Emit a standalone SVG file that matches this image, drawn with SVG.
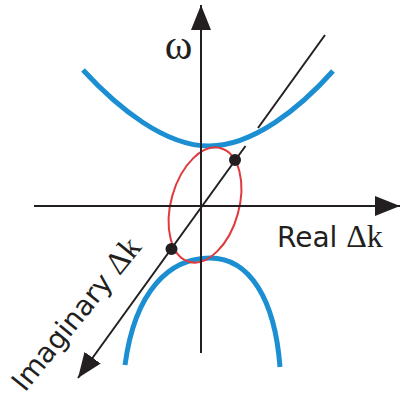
<svg xmlns="http://www.w3.org/2000/svg" width="401" height="400" viewBox="0 0 401 400">
  <defs>
    <marker id="arrow" markerUnits="userSpaceOnUse" markerWidth="26" markerHeight="21" refX="25" refY="10" orient="auto" viewBox="0 0 26 21">
      <path d="M0,0 L25,10 L0,20 Z" fill="#231f20"/>
    </marker>
    <style>
      .axis { stroke: #231f20; stroke-width: 2; fill: none; }
      .band { stroke: #1b8fd2; stroke-width: 5; fill: none; stroke-linecap: butt; }
      .loop { stroke: #e0393e; stroke-width: 2; fill: none; }
      .dot { fill: #231f20; }
      .lbl { font-family: "DejaVu Sans", "Liberation Sans", sans-serif; font-size: 28px; fill: #231f20; }
      .sym { font-family: "Liberation Serif", "DejaVu Serif", serif; font-size: 32px; }
      .omega { font-family: "Liberation Serif", "DejaVu Serif", serif; font-size: 42px; fill: #231f20; }
    </style>
  </defs>
  <rect width="401" height="400" fill="#ffffff"/>

  <g id="curves">
    <path id="upper-branch" class="band" d="M83,70 C118,108 165,146 209,146 C253,146 300,108 333,71"/>
    <path id="lower-branch" class="band" d="M125,365 C135,290 170,258 210,258 C250,258 275,300 280,367"/>
  </g>

  <ellipse id="loop" class="loop" cx="205" cy="205" rx="34" ry="59" transform="rotate(15.6 205 205)"/>

  <g id="connectors">
    <line id="omega-axis" class="axis" x1="201" y1="353" x2="201" y2="5" marker-end="url(#arrow)"/>
    <line id="real-axis" class="axis" x1="34" y1="206" x2="400" y2="206" marker-end="url(#arrow)"/>
    <line id="imag-axis-top" class="axis" x1="325" y1="35" x2="258" y2="128"/>
    <line id="imag-axis" class="axis" x1="245.5" y1="146" x2="78" y2="378" marker-end="url(#arrow)"/>
  </g>

  <g id="points">
    <circle class="dot" cx="235" cy="160" r="6"/>
    <circle class="dot" cx="171.5" cy="249" r="6"/>
  </g>

  <g id="labels">
    <text id="omega-label" class="omega" x="178.5" y="59" text-anchor="middle">ω</text>
    <text id="real-label" class="lbl" x="277" y="247">Real <tspan class="sym">Δk</tspan></text>
    <text id="imag-label" class="lbl" transform="translate(25 393) rotate(-51)" x="0" y="0">Imaginary <tspan class="sym">Δk</tspan></text>
  </g>
</svg>
